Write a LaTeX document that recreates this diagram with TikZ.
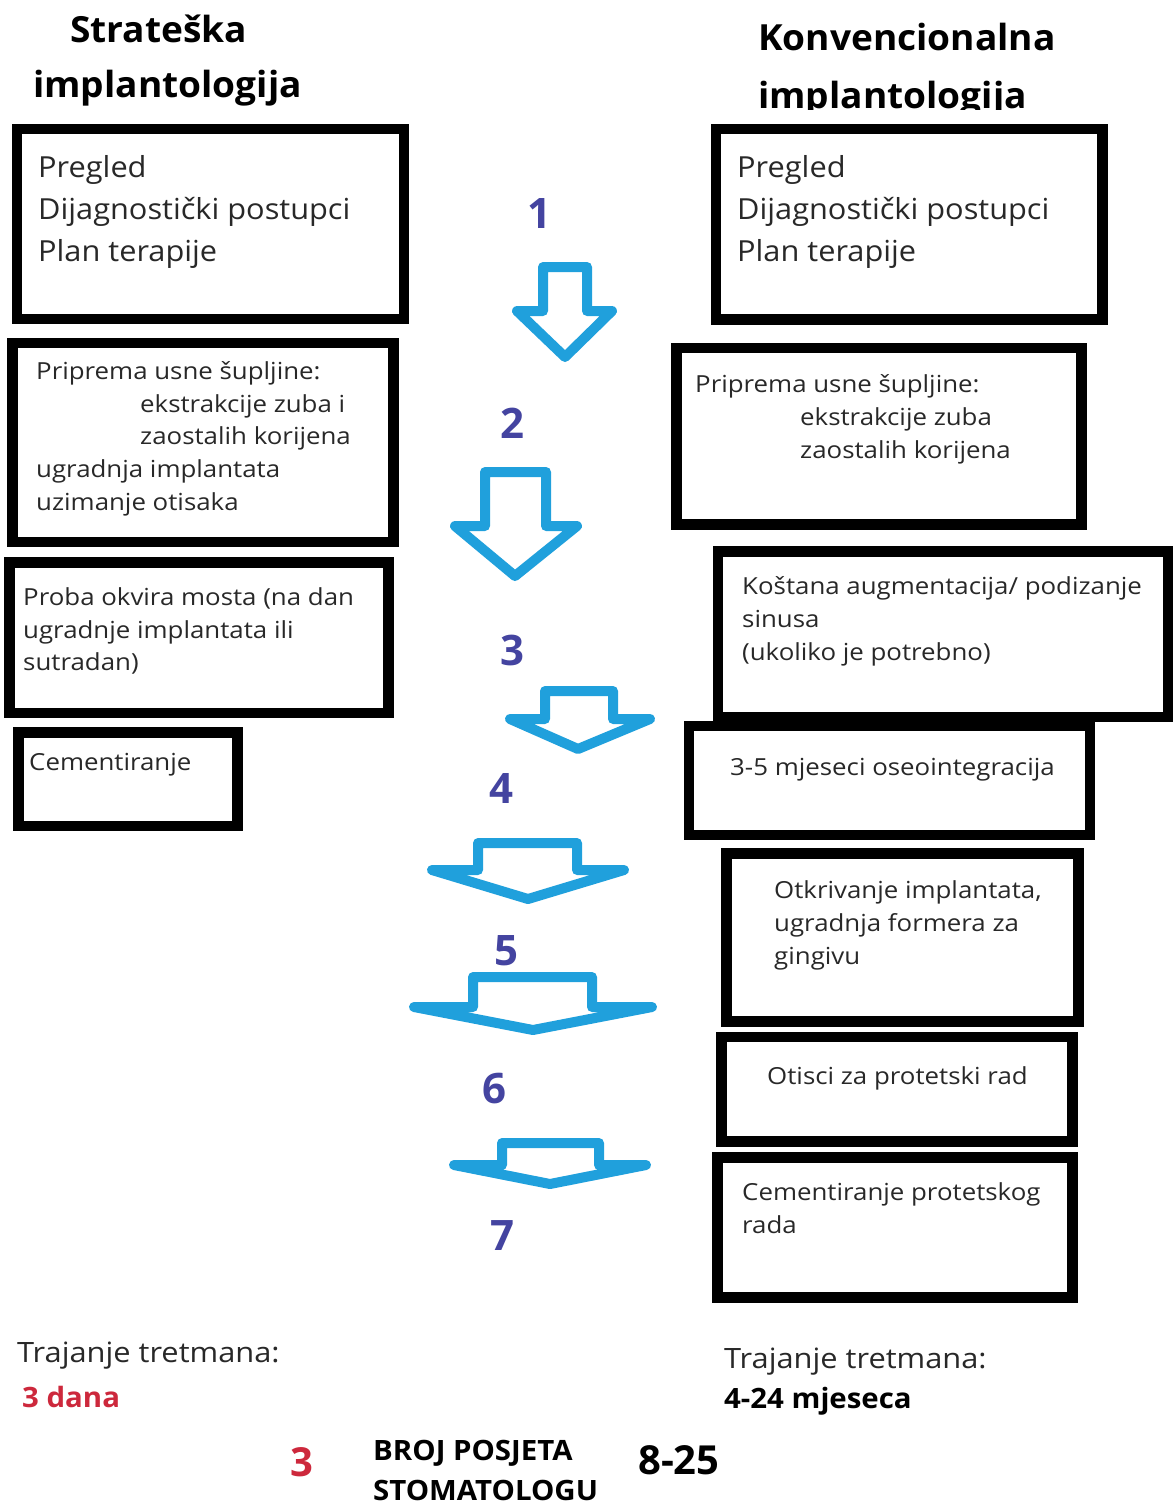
\documentclass[tikz,border=0pt]{standalone}
\usepackage{fontspec}
\setmainfont{Open Sans}
\newfontfamily\fbig[FakeStretch=1.06]{Open Sans}
\newfontfamily\fsmall[FakeStretch=1.10]{Open Sans}
\newfontfamily\ftitle[FakeStretch=1.03]{Open Sans}
\newfontfamily\ffoot[FakeStretch=1.05]{Open Sans}
\definecolor{arrowblue}{RGB}{32,160,220}
\definecolor{numblue}{RGB}{68,68,160}
\definecolor{redtxt}{RGB}{205,40,60}
\definecolor{txtgray}{RGB}{40,40,40}
\newcommand{\bluearrow}[8]{\draw[arrowshape] (#1,#3) -- (#2,#3) -- (#2,#4) -- (#6,#4) -- (#8,#7) -- (#5,#4) -- (#1,#4) -- cycle;}
\begin{document}
\begin{tikzpicture}[x=1pt,y=-1pt,
  box/.style={draw=black,line width=10.5pt,fill=white,rectangle,inner sep=0pt},
  arrowshape/.style={draw=arrowblue,line width=10pt,line join=round,fill=white},
  bigtxt/.style={anchor=base west,inner sep=0pt,text=txtgray,font=\fbig\fontsize{29}{34}\selectfont},
  smalltxt/.style={anchor=base west,inner sep=0pt,text=txtgray,font=\fsmall\fontsize{23.5}{28}\selectfont},
  title/.style={anchor=base west,inner sep=0pt,text=black,font=\ftitle\fontsize{36}{42}\selectfont\bfseries},
  num/.style={inner sep=0pt,text=numblue,font=\fontsize{42}{48}\selectfont\bfseries},
  foot/.style={anchor=base west,inner sep=0pt,text=txtgray,font=\fsmall\fontsize{28}{32}\selectfont},
  footb/.style={anchor=base west,inner sep=0pt,text=black,font=\ffoot\fontsize{28}{32}\selectfont\bfseries}
]
\useasboundingbox (0,0) rectangle (1173,1505);
\fill[white] (0,0) rectangle (1173,1505);

% titles
\node[title] (t1) at (70,42) {Strateška};
\node[title] (t2) at (33,97) {implantologija};
\node[title] (t3) at (758,50) {Konvencionalna};
\begin{scope}
\clip (700,60) rectangle (1173,109);
\node[title] (t4) at (758,108) {implantologija};
\end{scope}

% left boxes
\node[box,minimum width=387pt,minimum height=190pt] (L1) at (210.5,224) {};
\node[box,minimum width=381pt,minimum height=199pt] (L2) at (203,442.5) {};
\node[box,minimum width=379pt,minimum height=150.5pt] (L3) at (199,637.75) {};
\node[box,minimum width=219pt,minimum height=93.5pt] (L4) at (128,779.25) {};

% right boxes
\node[box,minimum width=386.5pt,minimum height=190.5pt] (R1) at (909.25,224.25) {};
\node[box,minimum width=405pt,minimum height=176.5pt] (R2) at (879,436.25) {};
\node[box,minimum width=450pt,minimum height=165.5pt] (R3) at (943,634.25) {};
\node[box,minimum width=401pt,minimum height=109pt] (R4) at (889.5,780.5) {};
\node[box,minimum width=352pt,minimum height=168pt] (R5) at (902.5,937.5) {};
\node[box,minimum width=351pt,minimum height=104.5pt] (R6) at (897,1089.25) {};
\node[box,minimum width=355pt,minimum height=140pt] (R7) at (895,1227.5) {};

% left texts
\node[bigtxt] (l1a) at (38,177) {Pregled};
\node[bigtxt] (l1b) at (38,219) {Dijagnostički postupci};
\node[bigtxt] (l1c) at (38,261) {Plan terapije};
\node[smalltxt] (l2a) at (36,379) {Priprema usne šupljine:};
\node[smalltxt] (l2b) at (140,412) {ekstrakcije zuba i};
\node[smalltxt] (l2c) at (140,444) {zaostalih korijena};
\node[smalltxt] (l2d) at (36,477) {ugradnja implantata};
\node[smalltxt] (l2e) at (36,510) {uzimanje otisaka};
\node[smalltxt] (l3a) at (23,605) {Proba okvira mosta (na dan};
\node[smalltxt] (l3b) at (23,638) {ugradnje implantata ili};
\node[smalltxt] (l3c) at (23,670) {sutradan)};
\node[smalltxt] (l4a) at (29,770) {Cementiranje};

% right texts
\node[bigtxt] (r1a) at (737,177) {Pregled};
\node[bigtxt] (r1b) at (737,219) {Dijagnostički postupci};
\node[bigtxt] (r1c) at (737,261) {Plan terapije};
\node[smalltxt] (r2a) at (695,392) {Priprema usne šupljine:};
\node[smalltxt] (r2b) at (800,425) {ekstrakcije zuba};
\node[smalltxt] (r2c) at (800,458) {zaostalih korijena};
\node[smalltxt] (r3a) at (742,594) {Koštana augmentacija/ podizanje};
\node[smalltxt] (r3b) at (742,627) {sinusa};
\node[smalltxt] (r3c) at (742,660) {(ukoliko je potrebno)};
\node[smalltxt] (r4a) at (730,775) {3-5 mjeseci oseointegracija};
\node[smalltxt] (r5a) at (774,898) {Otkrivanje implantata,};
\node[smalltxt] (r5b) at (774,931) {ugradnja formera za};
\node[smalltxt] (r5c) at (774,964) {gingivu};
\node[smalltxt] (r6a) at (767,1084) {Otisci za protetski rad};
\node[smalltxt] (r7a) at (742,1200) {Cementiranje protetskog};
\node[smalltxt] (r7b) at (742,1233) {rada};

% arrows
\bluearrow{543}{587}{267}{311}{517}{612}{357}{565}
\bluearrow{485}{546}{472}{526}{455}{577}{576}{515}
\bluearrow{545}{613}{691}{719}{510}{650}{749}{578}
\bluearrow{478}{577}{843}{870}{432}{624}{899}{528}
\bluearrow{473}{592}{977}{1007}{414}{652}{1030}{533}
\bluearrow{502}{599}{1143}{1165}{454}{646}{1184}{550}

% numbers
\node[num] (n1) at (539,214) {1};
\node[num] (n2) at (512,423) {2};
\node[num] (n3) at (512,650) {3};
\node[num] (n4) at (501,788) {4};
\node[num] (n5) at (506,951) {5};
\node[num] (n6) at (494,1089) {6};
\node[num] (n7) at (502,1236) {7};

% footer
\node[foot] (f1) at (17,1362) {Trajanje tretmana:};
\node[footb,text=redtxt] (f2) at (22,1407) {3 dana};
\node[foot] (f3) at (724,1368) {Trajanje tretmana:};
\node[footb] (f4) at (724,1408) {4-24 mjeseca};
\node[footb,text=redtxt,font=\fontsize{40}{44}\selectfont\bfseries] (f5) at (290,1476) {3};
\node[footb] (f6) at (373,1460) {BROJ POSJETA};
\node[footb] (f7) at (373,1500) {STOMATOLOGU};
\node[footb,font=\fontsize{40}{44}\selectfont\bfseries] (f8) at (638,1474) {8-25};
\end{tikzpicture}
\end{document}
